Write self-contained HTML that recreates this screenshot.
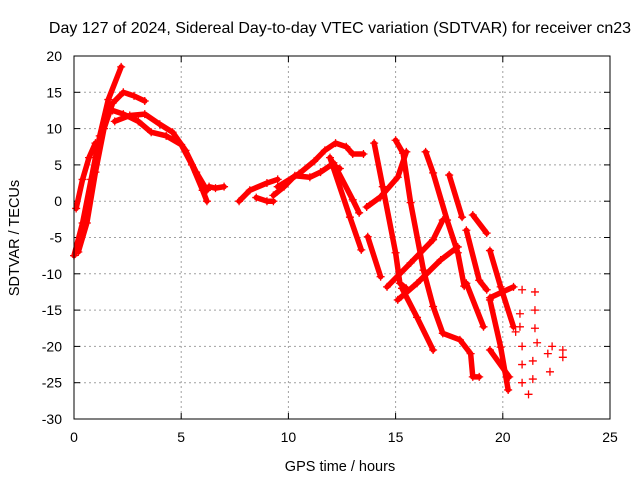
<!DOCTYPE html>
<html><head><meta charset="utf-8"><style>
body{margin:0;background:#fff}
svg{display:block;font-family:"Liberation Sans",sans-serif}
</style></head><body>
<svg id="chart" width="640" height="480"></svg>
<script>
const xTicks=[0,5,10,15,20,25];
const yTicks=[20,15,10,5,0,-5,-10,-15,-20,-25,-30];
const tracksTime=[
[0.0,0.4,0.8,1.2,1.6,2.2],
[0.2,0.6,1.0,1.4,1.8,2.3,2.8,3.3],
[1.8,2.3,3.0,3.6,4.3,5.0,5.5,6.0,6.2],
[1.9,2.6,3.3,4.0,4.6,5.2,5.7,6.2],
[0.1,0.4,0.7,1.0],
[6.3,6.6,7.0],
[7.7,8.2,9.0,9.5],
[8.5,9.0,9.3],
[9.3,9.8,10.3,11.0,11.5,12.0,12.4],
[9.5,10.5,11.2,11.7,12.2,12.7,13.0,13.5],
[11.94,12.87,13.4],
[12.1,13.0,13.3],
[13.7,14.3],
[14.0,14.4,15.0,15.2,15.5],
[15.0,15.35,15.7,16.3,16.75,17.2,18.0,18.5,18.6,18.9],
[16.4,16.75,17.4,17.9,18.2],
[13.65,14.3,15.1,15.5],
[14.6,15.7,16.75,17.2],
[15.1,16.0,17.1,17.9],
[17.5,18.1],
[18.6,19.25],
[18.3,18.9,19.25],
[19.4,19.9,20.5],
[18.3,19.1],
[19.4,19.9,20.25],
[19.4,20.3],
[19.4,20.5],
[15.3,16.0,16.75]
];
const tracksValue=[
[-7.5,-3,3,9,14,18.5],
[-7,-3,4,10,13.5,15,14.5,13.8],
[12.5,12,11,9.5,9,7.8,5,1.5,0],
[11,11.8,12,10.6,9.5,7,4,1.5],
[-1,3,6,8],
[2,1.8,2],
[0,1.5,2.5,3],
[0.5,0,0],
[0.8,2,3.5,3.3,4,5,4.5],
[2,3.8,5.5,7,8,7.5,6.5,6.5],
[6.0,-2.2,-6.7],
[5.3,0.2,-1.6],
[-4.9,-10.4],
[8.0,2,-7.1,-11.3,-12],
[8.4,6.6,-0.2,-9.5,-14.5,-18.2,-19.1,-21,-24.2,-24.2],
[6.8,3.9,-2.6,-7.1,-11.7],
[-0.8,0.6,3.3,6.8],
[-11.8,-8.5,-5.3,-2.6],
[-13.6,-11.3,-8.1,-6.3],
[3.6,-2.2],
[-1.9,-4.4],
[-4.0,-10.9,-12.2],
[-6.8,-11.8,-17.3],
[-11.3,-17.3],
[-13.6,-20.1,-26],
[-20.5,-24.2],
[-13.3,-11.8],
[-12,-16,-20.5]
];
const scatterTime=[21.5,21.5,21.5,21.6,21.4,21.4,21.2,22.1,22.2,22.3,22.8,22.8,20.9,20.9,20.9,20.8,20.8,20.9,20.6];
const scatterValue=[-12.5,-15,-17.5,-19.5,-22,-24.5,-26.6,-21,-23.5,-20,-20.5,-21.5,-20,-22.5,-25,-15.5,-17.3,-12.2,-18];

const L=74,R=610,T=56,B=419;
const sx=t=>L+(t-0)/25*(R-L);
const sy=v=>T+(20-v)/50*(B-T);
const svg=document.getElementById('chart');
const NS='http://www.w3.org/2000/svg';
function mk(tag,attrs,parent){const e=document.createElementNS(NS,tag);for(const k in attrs)e.setAttribute(k,attrs[k]);(parent||svg).appendChild(e);return e;}

const grid=mk('g',{});


xTicks.forEach(t=>{
  if(t>0&&t<25)mk('line',{x1:sx(t),x2:sx(t),y1:T,y2:B,stroke:'#a0a0a0','stroke-dasharray':'2,3'},grid);
  const tl=mk('text',{x:sx(t),y:B+23,'text-anchor':'middle','font-size':14,fill:'#000'});
  tl.textContent=t;
  
  
  mk('line',{x1:sx(t),x2:sx(t),y1:B,y2:B-6,stroke:'#000'});
  mk('line',{x1:sx(t),x2:sx(t),y1:T,y2:T+6,stroke:'#000'});
});
yTicks.forEach(v=>{
  if(v<20&&v>-30)mk('line',{x1:L,x2:R,y1:sy(v),y2:sy(v),stroke:'#a0a0a0','stroke-dasharray':'2,3'},grid);
  const tl=mk('text',{x:L-12,y:sy(v)+5,'text-anchor':'end','font-size':14,fill:'#000'});
  tl.textContent=v;
  
  
  mk('line',{x1:L,x2:L+6,y1:sy(v),y2:sy(v),stroke:'#000'});
  mk('line',{x1:R,x2:R-6,y1:sy(v),y2:sy(v),stroke:'#000'});
});

const series=mk('g',{});


function plus(x,y,g){mk('path',{d:`M${x-4},${y}h8M${x},${y-4}v8`,stroke:'#f00','stroke-width':1.3,fill:'none'},g);}
tracksTime.forEach((ts,i)=>{
  const g=mk('g',{},series);
  
  
  const pts=ts.map((t,j)=>sx(t)+','+sy(tracksValue[i][j])).join(' ');
  mk('polyline',{points:pts,fill:'none',stroke:'#f00','stroke-width':5.5,'stroke-linejoin':'round','stroke-linecap':'round'},g);
  ts.forEach((t,j)=>plus(sx(t),sy(tracksValue[i][j]),g));
});
const sg=mk('g',{},series);


scatterTime.forEach((t,i)=>plus(sx(t),sy(scatterValue[i]),sg));

const frame=mk('rect',{x:L,y:T,width:R-L,height:B-T,fill:'none',stroke:'#000'});



const title=mk('text',{x:340,y:33,'text-anchor':'middle','font-size':16,fill:'#000'});
title.textContent='Day 127 of 2024, Sidereal Day-to-day VTEC variation (SDTVAR) for receiver cn23';


const xt=mk('text',{x:340,y:471,'text-anchor':'middle','font-size':14.5,fill:'#000'});
xt.textContent='GPS time / hours';


const yt=mk('text',{x:0,y:0,'text-anchor':'middle','font-size':14.5,fill:'#000',transform:'translate(19,238) rotate(-90)'});
yt.textContent='SDTVAR / TECUs';


</script>
</body></html>
